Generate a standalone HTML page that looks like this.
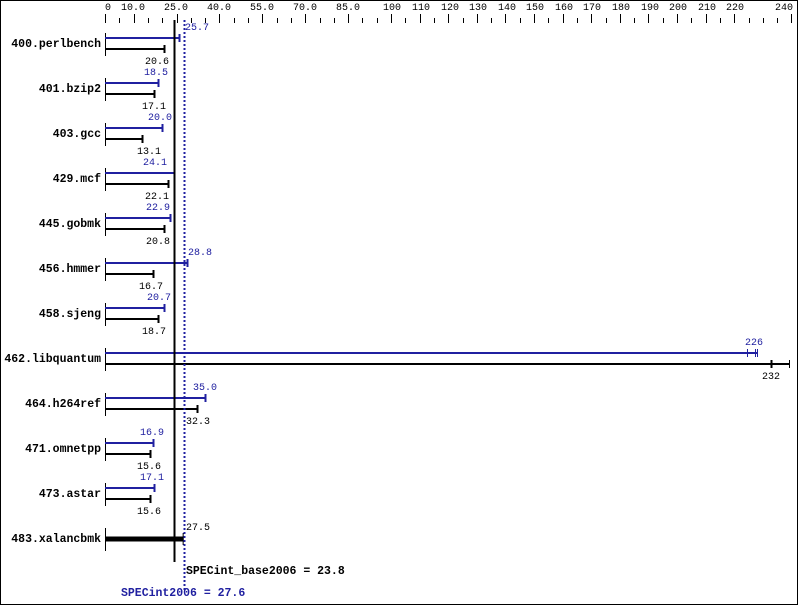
<!DOCTYPE html>
<html><head><style>
html,body{margin:0;padding:0;background:#fff}
svg{display:block}
text{font-family:"Liberation Mono","DejaVu Sans Mono",monospace;font-size:10px}
.l{font-weight:bold;font-size:11.5px;text-anchor:end}
.b{fill:#2020a0}
</style></head><body>
<svg width="799" height="606" viewBox="0 0 799 606" xmlns="http://www.w3.org/2000/svg">
<rect x="0.5" y="0.5" width="797" height="604" fill="#fff" stroke="#000"/>
<g text-anchor="middle">
<text x="108" y="10">0</text><text x="133" y="10">10.0</text><text x="176" y="10">25.0</text><text x="219" y="10">40.0</text><text x="262" y="10">55.0</text><text x="305" y="10">70.0</text><text x="348" y="10">85.0</text><text x="392" y="10">100</text><text x="421" y="10">110</text><text x="450" y="10">120</text><text x="478" y="10">130</text><text x="507" y="10">140</text><text x="535" y="10">150</text><text x="564" y="10">160</text><text x="592" y="10">170</text><text x="621" y="10">180</text><text x="650" y="10">190</text><text x="678" y="10">200</text><text x="707" y="10">210</text><text x="735" y="10">220</text><text x="784" y="10">240</text>
</g>
<g id="ticks" stroke="#000" stroke-width="1"></g>
<g id="bars"></g>
<line x1="174.5" y1="20" x2="174.5" y2="562" stroke="#000" stroke-width="2"/>
<line x1="184.5" y1="20" x2="184.5" y2="590" stroke="#2020a0" stroke-width="2" stroke-dasharray="2,2"/>
<g class="l">
<text class="l" x="101" y="47">400.perlbench</text>
<text class="l" x="101" y="92">401.bzip2</text>
<text class="l" x="101" y="137">403.gcc</text>
<text class="l" x="101" y="182">429.mcf</text>
<text class="l" x="101" y="227">445.gobmk</text>
<text class="l" x="101" y="272">456.hmmer</text>
<text class="l" x="101" y="317">458.sjeng</text>
<text class="l" x="101" y="362">462.libquantum</text>
<text class="l" x="101" y="407">464.h264ref</text>
<text class="l" x="101" y="452">471.omnetpp</text>
<text class="l" x="101" y="497">473.astar</text>
<text class="l" x="101" y="542">483.xalancbmk</text>
</g>
<g class="b">
<text class="b" x="185" y="30">25.7</text>
<text class="b" x="144" y="75">18.5</text>
<text class="b" x="148" y="120">20.0</text>
<text class="b" x="143" y="165">24.1</text>
<text class="b" x="146" y="210">22.9</text>
<text class="b" x="188" y="255">28.8</text>
<text class="b" x="147" y="300">20.7</text>
<text class="b" x="745" y="345">226</text>
<text class="b" x="193" y="390">35.0</text>
<text class="b" x="140" y="435">16.9</text>
<text class="b" x="140" y="480">17.1</text>
</g>
<text x="145" y="64">20.6</text>
<text x="142" y="109">17.1</text>
<text x="137" y="154">13.1</text>
<text x="145" y="199">22.1</text>
<text x="146" y="244">20.8</text>
<text x="139" y="289">16.7</text>
<text x="142" y="334">18.7</text>
<text x="762" y="379">232</text>
<text x="186" y="424">32.3</text>
<text x="137" y="469">15.6</text>
<text x="137" y="514">15.6</text>
<text x="186" y="530">27.5</text>
<text x="186" y="574" style="font-weight:bold;font-size:11.5px">SPECint_base2006 = 23.8</text>
<text x="121" y="596" style="font-weight:bold;font-size:11.5px;fill:#2020a0">SPECint2006 = 27.6</text>
</svg>
<script>
var ns="http://www.w3.org/2000/svg";
function X(v){return 105+v*2.86;}
function ln(g,x1,y1,x2,y2,c,w){var e=document.createElementNS(ns,"line");e.setAttribute("x1",x1);e.setAttribute("y1",y1);e.setAttribute("x2",x2);e.setAttribute("y2",y2);e.setAttribute("stroke",c);e.setAttribute("stroke-width",w);g.appendChild(e);}
var t=document.getElementById("ticks");
var majors=[0,10,25,40,55,70,85,100,110,120,130,140,150,160,170,180,190,200,210,220,230,240];
for(var v=0;v<=240;v+=5){var x=Math.round(X(v))+0.5;var m=majors.indexOf(v)>=0&&v!=230;ln(t,x,m?14:18,x,23,"#000",1);}
var b=document.getElementById("bars");
var B="#2020a0",K="#000";
var data=[[25.7,20.6],[18.5,17.1],[20.0,13.1],[24.1,22.1],[22.9,20.8],[28.8,16.7],[20.7,18.7],[226,232],[35.0,32.3],[16.9,15.6],[17.1,15.6]];
for(var i=0;i<12;i++){
 var y=38+45*i;
 ln(b,105.5,y-5,105.5,y+18,K,1);
 if(i==11){ln(b,105,y+6,X(27.5),y+6,K,5);ln(b,X(27.5)-0.5,y,X(27.5)-0.5,y+12,K,1);continue;}
 var d=data[i];
 if(i==7){
  ln(b,105,y,757,y,B,2);ln(b,747.5,y-4,747.5,y+4,B,1);ln(b,755.5,y-4,755.5,y+4,B,1);ln(b,757.5,y-4,757.5,y+4,B,1);
  ln(b,105,y+11,789,y+11,K,2);ln(b,771.5,y+7,771.5,y+15,K,2);ln(b,789.5,y+7,789.5,y+15,K,1);
  continue;}
 var xb=Math.round(X(d[0]))+0.5,xk=Math.round(X(d[1]))+0.5;
 ln(b,105,y,xb,y,B,2);ln(b,xb,y-4,xb,y+4,B,2);
 ln(b,105,y+11,xk,y+11,K,2);ln(b,xk,y+7,xk,y+15,K,2);
}
</script>
</body></html>
